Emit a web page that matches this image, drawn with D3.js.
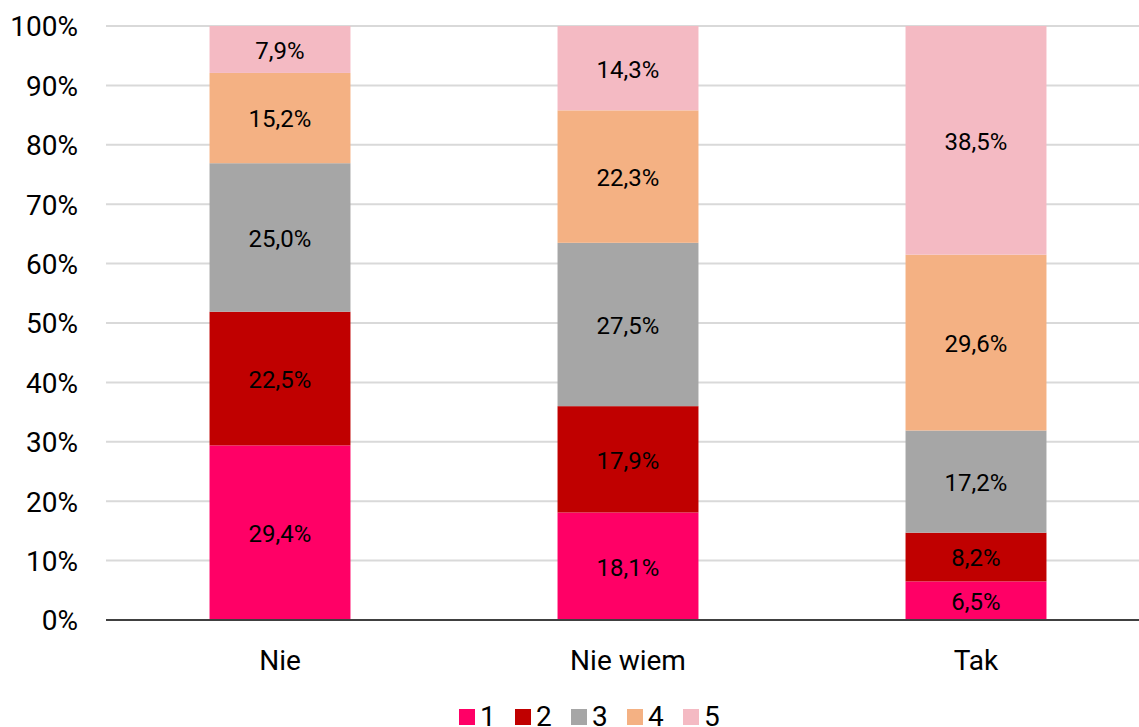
<!DOCTYPE html>
<html><head><meta charset="utf-8">
<script src="https://cdn.jsdelivr.net/npm/d3@7"></script>
<style>body{margin:0;background:#fff}svg{display:block;font-family:Roboto,sans-serif}</style>
</head><body><svg id="c" width="1139" height="727"></svg>
<script>
const categories = ["Nie", "Nie wiem", "Tak"];
const seriesNames = ["1", "2", "3", "4", "5"];
const s1 = [29.4, 18.1, 6.5];
const s2 = [22.5, 17.9, 8.2];
const s3 = [25.0, 27.5, 17.2];
const s4 = [15.2, 22.3, 29.6];
const s5 = [7.9, 14.3, 38.5];
const colors = ["#FF0066", "#C00000", "#A6A6A6", "#F4B183", "#F4BAC3"];
const yTicks = [0, 10, 20, 30, 40, 50, 60, 70, 80, 90, 100];

(function () {
const seriesValues = [s1, s2, s3, s4, s5];
const table = categories.map((c, i) => {
  const o = {cat: c};
  seriesNames.forEach((s, j) => o[s] = seriesValues[j][i]);
  return o;
});
const stacked = d3.stack().keys(seriesNames)(table);

const svg = d3.select("#c");
const pl = 106, pr = 1150, pt = 26, pb = 620;
const x = d3.scaleBand().domain(categories).range([pl, pr]).paddingInner(0.595).paddingOuter(0.2975);
const y = d3.scaleLinear().domain([0, 100]).range([pb, pt]);

// gridlines
svg.append("g").selectAll("line").data(yTicks.filter(t => t > 0)).join("line")
  .attr("x1", pl).attr("x2", 1139)
  .attr("y1", d => y(d)).attr("y2", d => y(d))
  .attr("stroke", "#d9d9d9").attr("stroke-width", 2);

// y tick labels
const yAxis = d3.axisLeft(y).tickValues(yTicks).tickFormat(d => d + "%").tickSize(0).tickPadding(0);
const ya = svg.append("g").attr("transform", `translate(${78},0)`).call(yAxis);
ya.select(".domain").remove();
ya.selectAll("text").attr("font-size", 28).attr("fill", "#000").attr("font-family", "Roboto").attr("dy", "0.35em");

// bars
const g = svg.append("g");
stacked.forEach((layer, j) => {
  g.selectAll(null).data(layer).join("rect")
    .attr("x", d => x(d.data.cat))
    .attr("width", x.bandwidth())
    .attr("y", d => y(Math.min(100, d[1])))
    .attr("height", d => y(d[0]) - y(Math.min(100, d[1])))
    .attr("fill", colors[j]);
});
stacked.forEach((layer, j) => {
  g.selectAll(null).data(layer).join("text")
    .attr("x", d => x(d.data.cat) + x.bandwidth() / 2)
    .attr("y", d => (y(d[0]) + y(Math.min(100, d[1]))) / 2 + 1)
    .attr("dy", "0.35em")
    .attr("text-anchor", "middle")
    .attr("font-size", 24)
    .attr("fill", "#000")
    .text(d => (d[1] - d[0]).toFixed(1).replace(".", ",") + "%");
});

// x axis
const xAxis = d3.axisBottom(x).tickSize(0).tickPadding(0);
const xa = svg.append("g").attr("transform", `translate(0,${pb})`).call(xAxis);
xa.select(".domain").remove();
xa.selectAll("text").attr("font-size", 28).attr("fill", "#000").attr("font-family", "Roboto").attr("y", 40).attr("dy", "0.35em");
svg.append("line").attr("x1", pl).attr("x2", 1139).attr("y1", pb).attr("y2", pb)
  .attr("stroke", "#404040").attr("stroke-width", 2);

// legend
const lg = svg.append("g");
const lx0 = 459, step = 56;
seriesNames.forEach((s, j) => {
  lg.append("rect").attr("x", lx0 + j * step).attr("y", 709).attr("width", 16).attr("height", 16).attr("fill", colors[j]);
  lg.append("text").attr("x", lx0 + j * step + 21).attr("y", 716).attr("dy", "0.35em")
    .attr("font-size", 28).attr("fill", "#000").text(s);
});
})();
</script></body></html>
